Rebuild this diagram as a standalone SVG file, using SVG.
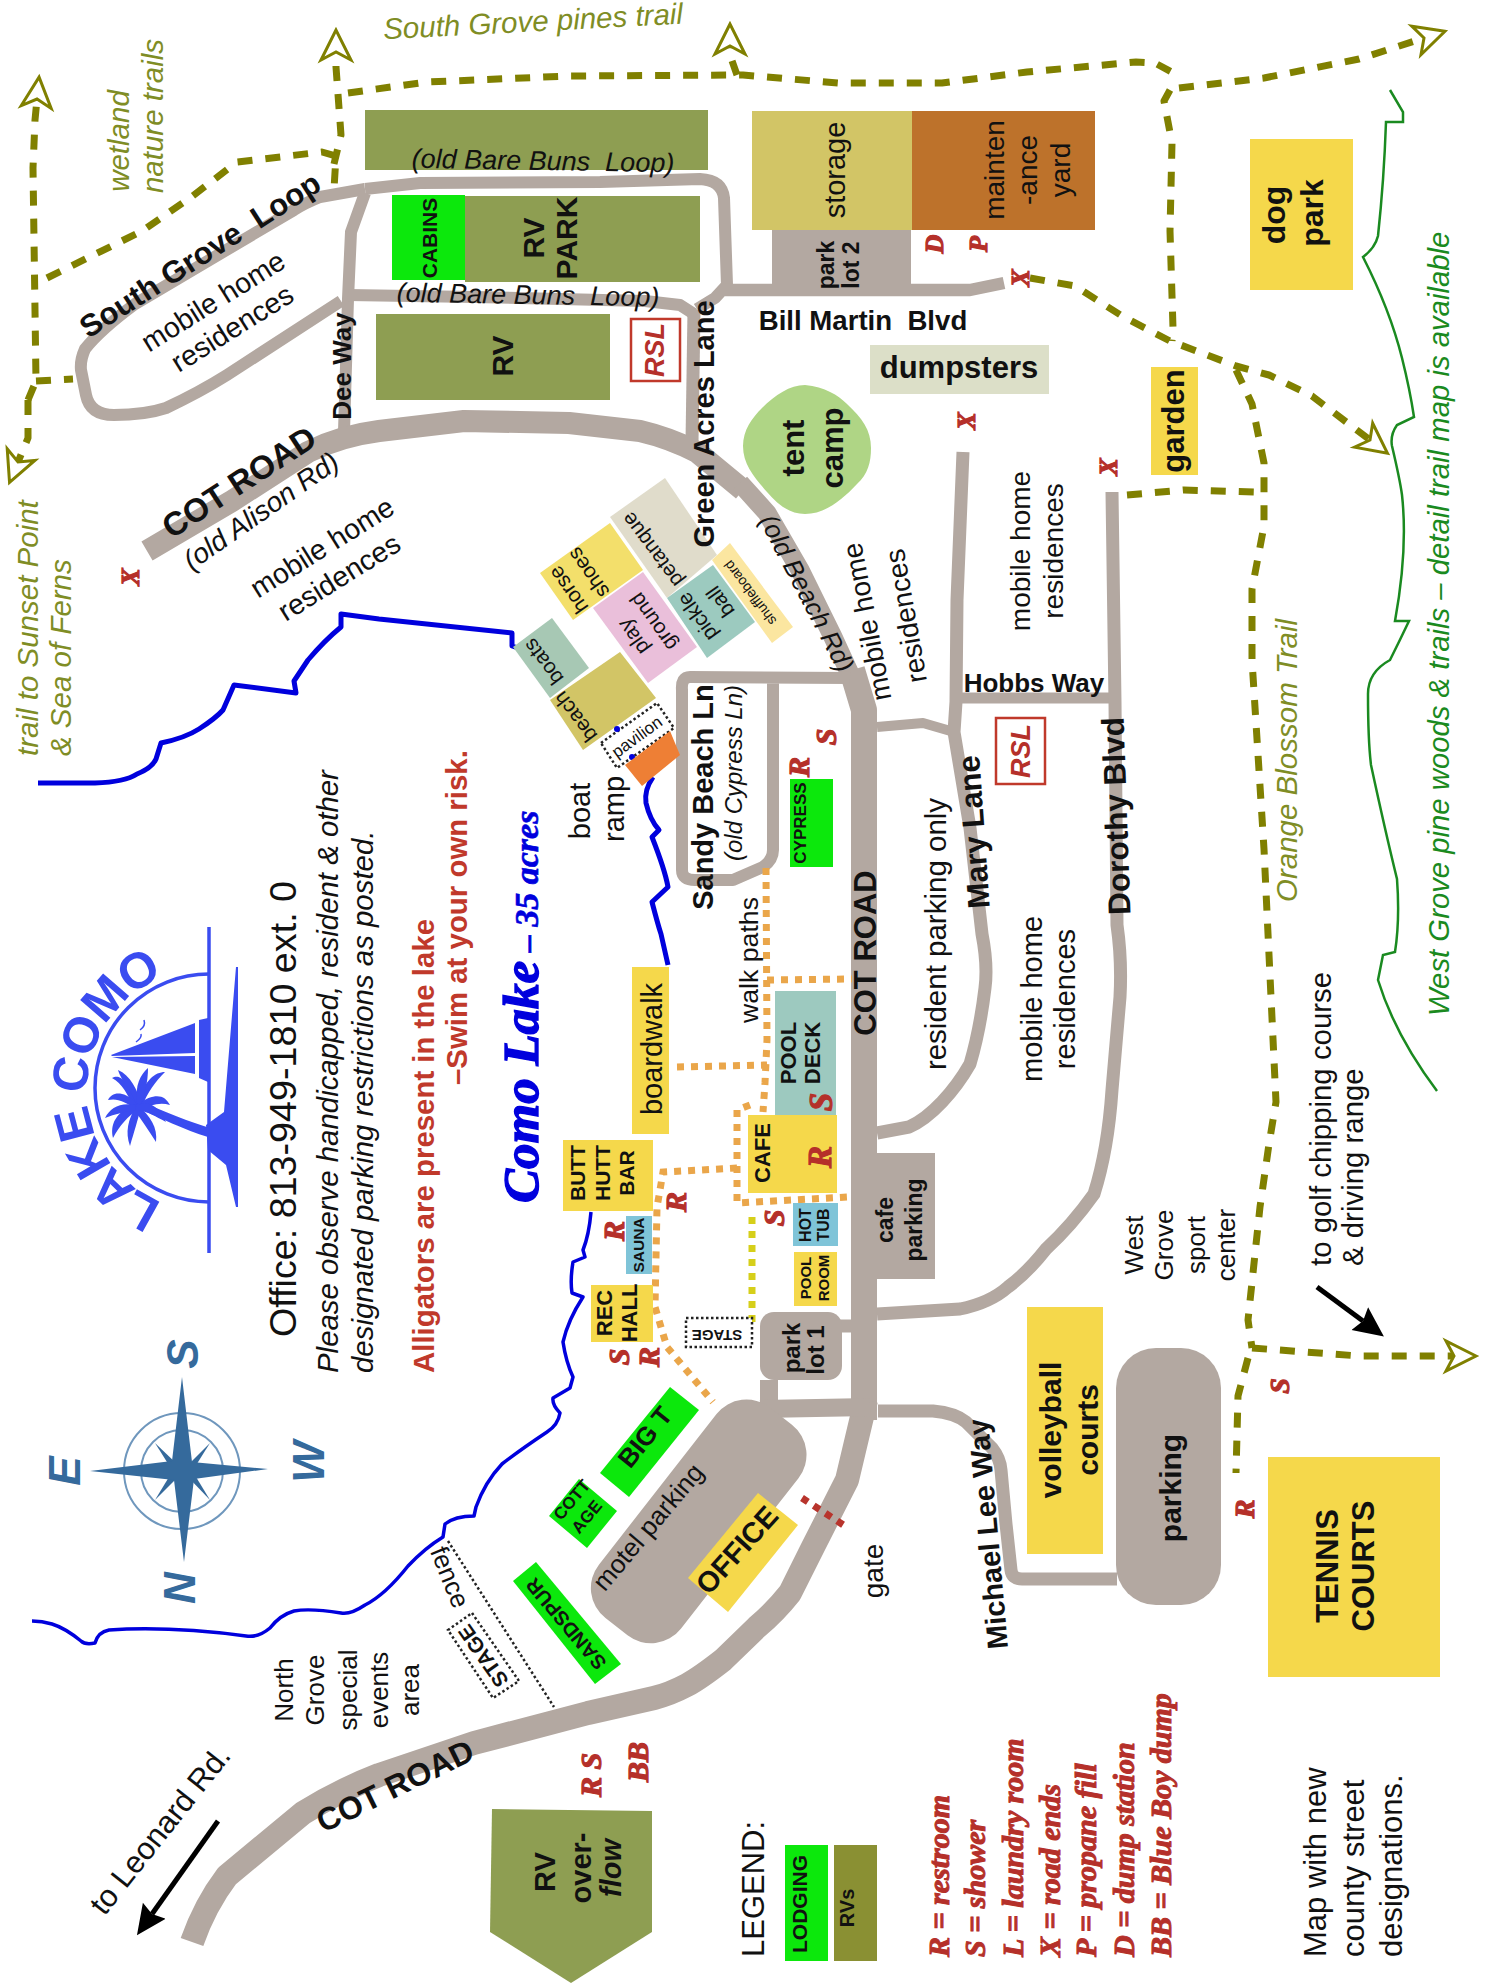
<svg xmlns="http://www.w3.org/2000/svg" width="1486" height="1986" viewBox="0 0 1486 1986">
<style>
text{font-family:"Liberation Sans",Arial,sans-serif;text-anchor:middle;dominant-baseline:central;fill:#111;font-size:28px;white-space:pre}
.b{font-weight:bold}
.i{font-style:italic}
.s{text-anchor:start;dominant-baseline:alphabetic}
.ol{fill:#7f8d25;font-style:italic;font-size:29.5px}
.sym{font-family:"Liberation Serif",serif;font-weight:bold;font-style:italic;fill:#b5302a;stroke:#b5302a;stroke-width:1.2px;font-size:30px}
.leg{font-family:"Liberation Serif",serif;font-weight:bold;font-style:italic;fill:#b5302a;stroke:#b5302a;stroke-width:1px;font-size:30px;text-anchor:start;dominant-baseline:alphabetic}
.rsl{font-weight:bold;font-style:italic;fill:#b5302a;font-size:27px}
.road{fill:none;stroke:#b3a8a1;stroke-linejoin:round}
.lot{fill:#b3a8a1}
.trail{fill:none;stroke:#808000;stroke-width:7;stroke-dasharray:15 13;stroke-linejoin:round}
.walk{fill:none;stroke:#eaa64a;stroke-width:7;stroke-dasharray:7 7}
.lake{fill:none;stroke:#0000dd;stroke-linejoin:round}
.y{fill:#f5d84b}
.g{fill:#0ce80c}
.rv{fill:#8e9e52}
.dot{fill:#fff;stroke:#222;stroke-width:2.5;stroke-dasharray:2.5 2.5}
.logo{fill:#3a4cf0}
.cmp{fill:#356a9c}
.cl{font-weight:bold;font-style:italic;fill:#356a9c;font-size:44px}
</style>
<defs>
<marker id="open" markerUnits="userSpaceOnUse" markerWidth="40" markerHeight="40" viewBox="-4 -20 40 40" refX="8" refY="0" orient="auto" overflow="visible"><path d="M30,0 L0,-15 L8,0 L0,15 Z" fill="#fff" stroke="#808000" stroke-width="3" stroke-linejoin="miter"/></marker>
<marker id="blk" markerUnits="userSpaceOnUse" markerWidth="34" markerHeight="34" viewBox="0 -17 34 34" refX="4" refY="0" orient="auto"><path d="M30,0 L0,-14 L4,0 L0,14 Z" fill="#000"/></marker>
</defs>
<rect width="1486" height="1986" fill="#fff"/>

<g id="lake">
<path class="lake" stroke-width="5" d="M38,783 L95,783 Q125,782 137,774 Q152,768 156,759 L161,743 Q185,738 199,729 Q216,718 223,710 L234,685 L296,693 L294,681 L308,660 Q325,640 341,627 L341,614 L379,619 L512,633 L512,646 L518,648"/>
<path class="lake" stroke-width="5" d="M653,777 Q644,790 646,803 Q650,820 659,830 L652,837 Q665,870 668,887 L652,902 Q658,925 661,934 L668,965"/>
<path class="lake" stroke-width="3.5" d="M591,1212 Q589,1235 583,1250 L585,1257 L573,1262 Q570,1280 572,1293 L583,1297 Q568,1320 563,1342 Q566,1362 573,1377 L570,1388 L553,1398 Q552,1405 560,1413 Q558,1425 547,1432 Q520,1450 502,1464 Q485,1482 476,1507 L474,1516 Q455,1516 445,1524 L443,1537 Q425,1548 408,1566 Q385,1595 365,1605 Q350,1615 341,1613 Q310,1608 294,1611 Q280,1615 270,1628 Q258,1638 246,1636 Q170,1626 109,1630 Q98,1632 95,1643 Q85,1645 81,1641 Q65,1628 52,1624 Q42,1621 32,1621"/>
</g>

<g id="connectors">
<g id="roads">
<path class="road" stroke-width="12" d="M365,189 L320,197 Q305,203 294,210 L135,304 Q100,330 85,349 Q80,360 81,370 L86,395 Q90,415 114,415 Q145,415 166,408 Q200,392 227,375 L341,301"/>
<path class="road" stroke-width="12" d="M365,189 L420,183 L600,182 L700,179 Q722,180 724,198 L727,285 L715,298 L697,309"/>
<path class="road" stroke-width="12" d="M365,193 L351,232 L348,299 L344,432"/>
<path class="road" stroke-width="12" d="M348,295 L474,297 L645,301 L680,305 L694,314"/>
<path class="road" stroke-width="13" d="M694,310 L692,442"/>
<path class="road" stroke-width="12.5" d="M725,290 L970,290 L1004,283"/>
<path class="road" stroke-width="22" d="M147,551 L232,501 L308,452 Q340,436 379,431 L464,421 L569,423 L640,431 Q670,438 697,452 L743,490"/>
<path class="road" stroke-width="19" d="M740,483 L767,513 L800,570 L833,637 L855,685"/>
<path class="road" stroke-width="26" d="M852,670 L864,710 L864,1420"/>
<path class="road" stroke-width="24" d="M866,1400 L847,1480 L813,1547 L790,1593 Q775,1612 757,1627 L723,1660 Q700,1678 687,1685 Q670,1694 654,1698 L588,1713 L474,1743 L379,1775 Q340,1790 303,1813 L227,1876 Q205,1905 192,1942"/>
<path class="road" stroke-width="12" d="M850,678 L690,677 Q681,677 682,690 L682,870 Q682,880 695,880 L733,880 L763,867 Q773,860 773,850 L773,680"/>
<path class="road" stroke-width="10" d="M877,727 L923,723 L954,732"/>
<path class="road" stroke-width="13" d="M963,452 L957,600 L956,702 L954,732 L970,828 L982,934 Q988,965 985,988 Q980,1030 970,1064 Q958,1085 942,1102 Q925,1120 909,1127 L877,1133"/>
<path class="road" stroke-width="11" d="M956,698 L1113,698"/>
<path class="road" stroke-width="13" d="M1112,492 L1115,702 L1117,925 Q1122,960 1120,997 L1112,1090 Q1108,1150 1094,1194 Q1072,1225 1046,1249 Q1028,1272 1008,1287 Q990,1303 960,1309 L877,1314"/>
<path class="road" stroke-width="13" d="M878,1411 L933,1411 Q955,1413 966,1422 L992,1448 Q1000,1458 1001,1470 L1006,1524 L1011,1570 Q1012,1579 1022,1579 L1117,1579"/>
<path class="road" stroke-width="13" d="M840,1326 L852,1326"/>
<path class="road" stroke-width="18" d="M769,1380 L769,1405"/>
<path class="road" stroke-width="18" d="M760,1409 L870,1407"/>
<rect class="lot" x="772" y="230" width="139" height="60"/>
<rect class="lot" x="877" y="1153" width="58" height="126"/>
<rect class="lot" x="760" y="1312" width="82" height="68" rx="14"/>
<rect class="lot" x="565" y="1469" width="267" height="104" rx="38" transform="rotate(-52 699 1521)"/>
<rect class="lot" x="1116" y="1348" width="105" height="257" rx="40"/>
</g>
<g id="trails">
<path class="trail" marker-end="url(#open)" d="M28,400 L36,381 L33,168 L35,120 L37,99"/>
<path class="trail" marker-end="url(#open)" d="M28,400 L28,438 L18,462"/>
<path class="trail" d="M36,381 L73,379"/>
<path class="trail" d="M47,278 L142,231 L190,198 L237,162 L322,152 L336,156 L334,189"/>
<path class="trail" marker-end="url(#open)" d="M334,164 L341,135 L336,67 L336,52"/>
<path class="trail" d="M348,93 L427,82 L569,76 L743,75 L838,83 L942,83 L1027,72 L1136,62 L1155,63 L1179,76"/>
<path class="trail" marker-end="url(#open)" d="M737,75 L730,55 L730,46"/>
<path class="trail" marker-end="url(#open)" d="M1179,88 L1264,78 L1359,59 L1424,38"/>
<path class="trail" d="M1170,90 L1164,101 L1172,143 L1170,231 L1173,328 L1172,341"/>
<path class="trail" marker-end="url(#open)" d="M1030,278 L1075,286 L1122,316 L1170,341 L1236,366 L1269,375 L1312,396 L1370,440"/>
<path class="trail" d="M1236,370 L1252,404 L1264,463 L1264,526 L1252,589 L1252,660 L1264,849 L1271,997 L1276,1102 L1269,1144 L1260,1207 L1248,1320 L1252,1348"/>
<path class="trail" marker-end="url(#open)" d="M1252,1348 L1359,1356 L1454,1356"/>
<path class="trail" d="M1248,1358 L1238,1396 L1236,1473"/>
<path class="trail" d="M1127,495 L1184,490 L1255,492"/>
</g>
<g id="walk-paths">
<path class="walk" d="M677,1067 L767,1065"/>
<path class="walk" d="M766,868 L767,1040 L765,1083 L763,1112"/>
<path class="walk" d="M767,980 L852,979"/>
<path class="walk" d="M750,1105 L737,1110 L737,1203 L847,1197"/>
<path class="walk" d="M737,1168 L663,1172 L660,1190 L657,1207 L655,1307 L667,1347 L713,1402"/>
<path class="walk" style="stroke:#d6cf1a" d="M752,1217 L752,1323"/>
<path id="gate" class="walk" style="stroke:#b8342c" d="M802,1498 L848,1528"/>
<path id="fence-line" fill="none" stroke="#222" stroke-width="2.5" stroke-dasharray="2.5 2.5" d="M448,1541 L554,1707"/>
</g>
<g id="brace"><path fill="none" stroke="#1a8a20" stroke-width="2.5" d="M1390,90 L1403,112 L1403,122 L1386,122 Q1384,180 1378,236 Q1375,248 1363,257 Q1390,310 1402,358 Q1410,390 1414,417 L1397,425 Q1390,435 1392,446 Q1400,480 1402,495 Q1408,550 1395,621 L1409,621 Q1400,640 1390,660 Q1368,672 1368,694 Q1368,740 1371,765 Q1385,830 1397,879 Q1400,920 1395,952 L1383,955 L1378,980 Q1395,1035 1437,1091"/></g>
<path id="leonard-arrow" fill="none" stroke="#000" stroke-width="5" marker-end="url(#blk)" d="M218,1821 L152,1914"/>
<path id="golf-arrow" fill="none" stroke="#000" stroke-width="5" marker-end="url(#blk)" d="M1317,1287 L1363,1321"/>
</g>

<g id="rv-top"><rect class="rv" x="365" y="110" width="343" height="60"/><text class="i" transform="translate(543 161) rotate(1)" style="font-size:27px">(old Bare Buns  Loop)</text></g>
<g id="cabins"><rect class="g" x="392" y="195" width="73" height="85"/><text class="b" transform="translate(429 238) rotate(-90)" style="font-size:21px">CABINS</text></g>
<g id="rv-park"><rect class="rv" x="465" y="196" width="235" height="86"/><text class="b" transform="translate(533 238) rotate(-90)" style="font-size:30px">RV</text><text class="b" transform="translate(566 238) rotate(-90)" style="font-size:30px">PARK</text></g>
<g id="rv-lot"><rect class="rv" x="376" y="314" width="234" height="86"/><text class="b" transform="translate(502 356) rotate(-90)" style="font-size:30px">RV</text></g>
<g id="rsl1"><rect x="631" y="319" width="49" height="62" fill="#fff" stroke="#c0392b" stroke-width="2.5"/><text class="rsl" transform="translate(655 350) rotate(-90)">RSL</text></g>
<g id="rsl2"><rect x="996" y="718" width="49" height="66" fill="#fff" stroke="#c0392b" stroke-width="2.5"/><text class="rsl" transform="translate(1021 751) rotate(-90)">RSL</text></g>
<g id="storage"><rect x="752" y="111" width="160" height="119" fill="#d2c566"/><text transform="translate(835 170) rotate(-90)" style="font-size:29px">storage</text></g>
<g id="maintenance"><rect x="912" y="111" width="183" height="119" fill="#bd722b"/><text transform="translate(994 170) rotate(-90)">mainten</text><text transform="translate(1027 170) rotate(-90)">-ance</text><text transform="translate(1060 170) rotate(-90)">yard</text></g>
<g id="parklot2"><text class="b" transform="translate(826 265) rotate(-90)" style="font-size:23px">park</text><text class="b" transform="translate(851 265) rotate(-90)" style="font-size:23px">lot 2</text></g>
<g id="dumpsters"><rect x="870" y="345" width="179" height="49" fill="#dcdfc8"/><text class="b" x="959" y="367" style="font-size:31px">dumpsters</text></g>
<g id="tent-camp"><path fill="#afd585" d="M805,385 C825,387 838,395 847,404 C862,418 871,430 871,448 C871,462 868,474 857,484 C842,500 825,514 805,514 C790,514 778,505 767,492 C755,478 743,465 743,446 C743,430 752,418 762,408 C775,395 790,385 805,385Z"/><text class="b" transform="translate(793 448) rotate(-90)" style="font-size:31px">tent</text><text class="b" transform="translate(832 448) rotate(-90)" style="font-size:31px">camp</text></g>
<g id="dog-park"><rect class="y" x="1250" y="139" width="103" height="151"/><text class="b" transform="translate(1274 215) rotate(-90)" style="font-size:32px">dog</text><text class="b" transform="translate(1312 213) rotate(-90)" style="font-size:32px">park</text></g>
<g id="garden"><rect class="y" x="1151" y="367" width="47" height="108"/><text class="b" transform="translate(1173 421) rotate(-90)" style="font-size:31px">garden</text></g>

<g id="petanque"><polygon points="610,517 665,478 717,555 667,598" fill="#e0dccb"/><text transform="translate(652 550) rotate(-127)" style="font-size:21px">petanque</text></g>
<g id="horse-shoes"><polygon points="540,573 610,523 643,570 573,620" fill="#f3df6b"/><text transform="translate(568 590) rotate(-125)" style="font-size:21px">horse</text><text transform="translate(588 573) rotate(-125)" style="font-size:21px">shoes</text></g>
<g id="playground"><polygon points="593,608 643,572 697,647 648,683" fill="#eabfda"/><text transform="translate(633 637) rotate(-125)" style="font-size:21px">play</text><text transform="translate(653 622) rotate(-125)" style="font-size:21px">ground</text></g>
<g id="pickleball"><polygon points="667,598 713,565 755,622 707,658" fill="#9ccabf"/><text transform="translate(697 617) rotate(-125)" style="font-size:21px">pickle</text><text transform="translate(720 602) rotate(-125)" style="font-size:21px">ball</text></g>
<g id="shuffleboard"><polygon points="712,560 730,543 793,627 772,643" fill="#fbe6a0"/><text transform="translate(750 593) rotate(-127)" style="font-size:14px">shuffleboard</text></g>
<g id="boats"><polygon points="513,647 552,618 589,668 550,698" fill="#a7c8b4"/><text transform="translate(543 662) rotate(-127)" style="font-size:21px">boats</text></g>
<g id="beach"><polygon points="550,700 620,652 656,698 583,750" fill="#d2c566"/><text transform="translate(575 717) rotate(-127)" style="font-size:21px">beach</text></g>
<g id="pavilion"><polygon class="dot" points="601,743 657,703 674,728 617,768"/><circle cx="617" cy="729" r="3" fill="#0000dd"/><circle cx="632" cy="757" r="3" fill="#0000dd"/><text transform="translate(637 737) rotate(-36)" style="font-size:17px">pavilion</text></g>
<g id="boat-ramp"><polygon points="625,765 670,731 680,755 642,786" fill="#ee7f35"/><text transform="translate(580 811) rotate(-90)" style="font-size:29px">boat</text><text transform="translate(614 809) rotate(-90)" style="font-size:29px">ramp</text></g>
<g id="cypress"><rect class="g" x="790" y="779" width="43" height="88"/><text class="b" transform="translate(800 823) rotate(-90)" style="font-size:17px">CYPRESS</text></g>
<g id="boardwalk"><rect class="y" x="632" y="967" width="37" height="167"/><text transform="translate(652 1049) rotate(-90)" style="font-size:29px">boardwalk</text></g>
<g id="butt-hutt-bar"><rect class="y" x="563" y="1140" width="90" height="71"/><text class="b" transform="translate(577 1173) rotate(-90)" style="font-size:21px">BUTT</text><text class="b" transform="translate(602 1173) rotate(-90)" style="font-size:21px">HUTT</text><text class="b" transform="translate(626 1173) rotate(-90)" style="font-size:21px">BAR</text></g>
<g id="sauna"><rect x="626" y="1216" width="26" height="58" fill="#7fc4d8"/><text class="b" transform="translate(638 1245) rotate(-90)" style="font-size:15.5px">SAUNA</text></g>
<g id="rec-hall"><rect class="y" x="591" y="1285" width="62" height="57"/><text class="b" transform="translate(604 1313) rotate(-90)" style="font-size:22px">REC</text><text class="b" transform="translate(629 1313) rotate(-90)" style="font-size:22px">HALL</text></g>
<g id="pool-deck"><rect x="775" y="991" width="61" height="124" fill="#9dc9bf"/><text class="b" transform="translate(788 1053) rotate(-90)" style="font-size:22px">POOL</text><text class="b" transform="translate(812 1053) rotate(-90)" style="font-size:22px">DECK</text></g>
<g id="cafe"><rect class="y" x="748" y="1115" width="89" height="78"/><text class="b" transform="translate(762 1153) rotate(-90)" style="font-size:22px">CAFE</text></g>
<g id="hot-tub"><rect x="793" y="1203" width="45" height="43" fill="#7fc4d8"/><text class="b" transform="translate(805 1225) rotate(-90)" style="font-size:16px">HOT</text><text class="b" transform="translate(823 1225) rotate(-90)" style="font-size:16px">TUB</text></g>
<g id="pool-room"><rect class="y" x="794" y="1252" width="43" height="54"/><text class="b" transform="translate(805 1278) rotate(-90)" style="font-size:15px">POOL</text><text class="b" transform="translate(823 1278) rotate(-90)" style="font-size:15px">ROOM</text></g>
<g id="stage-small"><rect class="dot" x="686" y="1318" width="66" height="29"/><text class="b" transform="translate(717 1335) rotate(180)" style="font-size:15px">STAGE</text></g>
<g id="parklot1"><text class="b" transform="translate(791 1348) rotate(-90)" style="font-size:24px">park</text><text class="b" transform="translate(815 1350) rotate(-90)" style="font-size:24px">lot 1</text></g>
<g id="cafe-parking"><text class="b" transform="translate(885 1220) rotate(-90)" style="font-size:23px">cafe</text><text class="b" transform="translate(914 1220) rotate(-90)" style="font-size:23px">parking</text></g>
<g id="big-t"><polygon class="g" points="670,1387 699,1410 629,1497 600,1473"/><text class="b" transform="translate(645 1437) rotate(-51)" style="font-size:26px">BIG T</text></g>
<g id="cottage"><polygon class="g" points="579,1479 617,1511 587,1548 549,1516"/><text class="b" transform="translate(572 1500) rotate(-50)" style="font-size:17px">COTT</text><text class="b" transform="translate(587 1517) rotate(-50)" style="font-size:17px">AGE</text></g>
<g id="sandspur"><polygon class="g" points="536,1562 621,1664 595,1684 513,1581"/><text class="b" transform="translate(566 1624) rotate(-130)" style="font-size:20px">SANDSPUR</text></g>
<g id="motel-parking"><text transform="translate(648 1527) rotate(-50)" style="font-size:26px">motel parking</text></g>
<g id="office"><polygon class="y" points="758,1493 798,1525 728,1612 688,1578"/><text class="b" transform="translate(737 1550) rotate(-48)" style="font-size:29px">OFFICE</text></g>
<g id="stage-large"><polygon class="dot" points="472,1613 519,1681 493,1698 448,1630"/><text class="b" transform="translate(483 1656) rotate(-125)" style="font-size:21px">STAGE</text></g>
<g id="volleyball"><rect class="y" x="1027" y="1307" width="76" height="247"/><text class="b" transform="translate(1050 1430) rotate(-90)" style="font-size:30px">volleyball</text><text class="b" transform="translate(1087 1430) rotate(-90)" style="font-size:30px">courts</text></g>
<g id="parking"><text class="b" transform="translate(1170 1488) rotate(-90)" style="font-size:30px">parking</text></g>
<g id="tennis"><rect class="y" x="1268" y="1457" width="172" height="220"/><text class="b" transform="translate(1327 1566) rotate(-90)" style="font-size:31px">TENNIS</text><text class="b" transform="translate(1363 1566) rotate(-90)" style="font-size:31px">COURTS</text></g>
<g id="rv-overflow"><polygon class="rv" points="492,1809 652,1811 652,1932 571,1983 490,1932"/><text class="b" transform="translate(545 1872) rotate(-90)" style="font-size:29px">RV</text><text class="b" transform="translate(581 1868) rotate(-90)" style="font-size:29px">over-</text><text class="b i" transform="translate(611 1868) rotate(-90)" style="font-size:29px">flow</text></g>

<g id="labels">
<text class="ol" transform="translate(533 21) rotate(-3)">South Grove pines trail</text>
<text class="ol" transform="translate(118 141) rotate(-90)">wetland</text>
<text class="ol" transform="translate(152 116) rotate(-90)">nature trails</text>
<text class="ol s" transform="translate(38 756) rotate(-90)">trail to Sunset Point</text>
<text class="ol s" transform="translate(71 756) rotate(-90)">&amp; Sea of Ferns</text>
<text class="i s" style="fill:#1a8a20;font-size:29.3px" transform="translate(1449 1016) rotate(-90)">West Grove pine woods &amp; trails – detail trail map is available</text>
<text class="ol s" transform="translate(1297 902) rotate(-90)">Orange Blossom Trail</text>
<text class="b" transform="translate(200 255) rotate(-32.6)" style="font-size:31px">South Grove  Loop</text>
<text transform="translate(213 301) rotate(-32)" style="font-size:28.5px">mobile home</text>
<text transform="translate(232 328) rotate(-32)" style="font-size:28.5px">residences</text>
<text class="b" transform="translate(342 366) rotate(-90)" style="font-size:26px">Dee Way</text>
<text class="i" transform="translate(528 295) rotate(1)" style="font-size:27px">(old Bare Buns  Loop)</text>
<text class="b" transform="translate(704 424) rotate(-90)" style="font-size:29px">Green Acres Lane</text>
<text class="b" transform="translate(239 482) rotate(-33)" style="font-size:33px">COT ROAD</text>
<text class="i" transform="translate(261 511) rotate(-35)">(old Alison Rd)</text>
<text transform="translate(322 547) rotate(-32)" style="font-size:28.5px">mobile home</text>
<text transform="translate(339 577) rotate(-32)" style="font-size:28.5px">residences</text>
<text class="b" x="863" y="320" style="font-size:27.6px">Bill Martin  Blvd</text>
<text transform="translate(867 622) rotate(-101)" style="font-size:28px">mobile home</text>
<text transform="translate(906 616) rotate(-100)" style="font-size:28px">residences</text>
<text transform="translate(1020 551) rotate(-90)" style="font-size:28px">mobile home</text>
<text transform="translate(1053 551) rotate(-90)" style="font-size:28px">residences</text>
<text class="i" transform="translate(807 593) rotate(62.5)" style="font-size:26px">(old Beach Rd)</text>
<text class="b" x="1034" y="683" style="font-size:26px">Hobbs Way</text>
<text class="b" transform="translate(703 797) rotate(-90)" style="font-size:29px">Sandy Beach Ln</text>
<text class="i" transform="translate(733 773) rotate(-90)" style="font-size:24px">(old Cypress Ln)</text>
<text class="b" transform="translate(865 953) rotate(-90)" style="font-size:31px">COT ROAD</text>
<text class="b" transform="translate(974 832) rotate(-94)" style="font-size:31px">Mary Lane</text>
<text class="b" transform="translate(1116 816) rotate(-92)" style="font-size:31.5px">Dorothy Blvd</text>
<text transform="translate(935 934) rotate(-90)" style="font-size:29.5px">resident parking only</text>
<text transform="translate(1032 999) rotate(-90)" style="font-size:29px">mobile home</text>
<text transform="translate(1065 999) rotate(-90)" style="font-size:29px">residences</text>
<text transform="translate(749 960) rotate(-90)" style="font-size:26.7px">walk paths</text>
<text class="b" transform="translate(988 1534) rotate(-95)" style="font-size:29px">Michael Lee Way</text>
<text transform="translate(873 1571) rotate(-90)">gate</text>
<text transform="translate(1134 1245) rotate(-90)" style="font-size:26px">West</text>
<text transform="translate(1164 1245) rotate(-90)" style="font-size:26px">Grove</text>
<text transform="translate(1196 1245) rotate(-90)" style="font-size:26px">sport</text>
<text transform="translate(1226 1245) rotate(-90)" style="font-size:26px">center</text>
<text class="s" transform="translate(1331 1266) rotate(-90)" style="font-size:29.4px">to golf chipping course</text>
<text class="s" transform="translate(1363 1266) rotate(-90)" style="font-size:29.4px">&amp; driving range</text>
<text transform="translate(450 1577) rotate(68)" style="font-size:26px">fence</text>
<text transform="translate(284 1690) rotate(-90)" style="font-size:26px">North</text>
<text transform="translate(315 1690) rotate(-90)" style="font-size:26px">Grove</text>
<text transform="translate(348 1690) rotate(-90)" style="font-size:26px">special</text>
<text transform="translate(379 1690) rotate(-90)" style="font-size:26px">events</text>
<text transform="translate(410 1690) rotate(-90)" style="font-size:26px">area</text>
<text class="b" transform="translate(395 1786) rotate(-26)" style="font-size:32px">COT ROAD</text>
<text transform="translate(160 1830) rotate(-51.5)" style="font-size:31px">to Leonard Rd.</text>
<text class="s" transform="translate(296 1337) rotate(-90)" style="font-size:37.7px">Office: 813-949-1810 ext. 0</text>
<text class="i s" transform="translate(338 1373) rotate(-90)" style="font-size:29.4px">Please observe handicapped, resident &amp; other</text>
<text class="i s" transform="translate(373 1373) rotate(-90)" style="font-size:29.4px">designated parking restrictions as posted.</text>
<text class="b s" style="fill:#c0392b;font-size:29.4px" transform="translate(434 1373) rotate(-90)">Alligators are present in the lake</text>
<text class="b s" style="fill:#c0392b;font-size:29.4px" transform="translate(467 1085) rotate(-90)">–Swim at your own risk.</text>
<text class="s" style="font-family:'Liberation Serif',serif;font-weight:bold;font-style:italic;fill:#0000dd;stroke:#0000dd;stroke-width:1.4px;font-size:51px" transform="translate(538 1203) rotate(-90)">Como Lake<tspan style="font-size:34px;stroke-width:.6px"> – 35 acres</tspan></text>
<text class="s" transform="translate(764 1957) rotate(-90)" style="font-size:31px">LEGEND:</text>
<text class="s" transform="translate(1326 1957) rotate(-90)" style="font-size:31px">Map with new</text>
<text class="s" transform="translate(1364 1957) rotate(-90)" style="font-size:31px">county street</text>
<text class="s" transform="translate(1402 1957) rotate(-90)" style="font-size:31px">designations.</text>
</g>

<g id="symbols">
<text class="sym" style="font-size:26px" transform="translate(130 577) rotate(-90)">X</text>
<text class="sym" style="font-size:26px" transform="translate(1020 278) rotate(-90)">X</text>
<text class="sym" style="font-size:26px" transform="translate(966 421) rotate(-90)">X</text>
<text class="sym" style="font-size:26px" transform="translate(1108 467) rotate(-90)">X</text>
<text class="sym" style="font-size:26px" transform="translate(934 244) rotate(-90)">D</text>
<text class="sym" style="font-size:26px" transform="translate(978 244) rotate(-90)">P</text>
<text class="sym" transform="translate(798 767) rotate(-90)">R</text>
<text class="sym" transform="translate(825 737) rotate(-90)">S</text>
<text class="sym" style="font-size:33px" transform="translate(821 1102) rotate(-90)">S</text>
<text class="sym" style="font-size:33px" transform="translate(820 1157) rotate(-90)">R</text>
<text class="sym" transform="translate(675 1202) rotate(-90)">R</text>
<text class="sym" transform="translate(613 1231) rotate(-90)">R</text>
<text class="sym" transform="translate(773 1218) rotate(-90)">S</text>
<text class="sym" transform="translate(618 1357) rotate(-90)">S</text>
<text class="sym" transform="translate(648 1357) rotate(-90)">R</text>
<text class="sym" transform="translate(590 1775) rotate(-90)">R S</text>
<text class="sym" transform="translate(637 1762) rotate(-90)">BB</text>
<text class="sym" style="font-size:28px" transform="translate(1244 1509) rotate(-90)">R</text>
<text class="sym" style="font-size:28px" transform="translate(1279 1386) rotate(-90)">S</text>
</g>

<g id="legend">
<rect class="g" x="785" y="1845" width="43" height="116"/><text class="b" transform="translate(799 1904) rotate(-90)" style="font-size:21px">LODGING</text>
<rect x="834" y="1845" width="43" height="116" fill="#8a9033"/><text class="b" transform="translate(847 1908) rotate(-90)" style="font-size:20px">RVs</text>
<text class="leg" transform="translate(949 1957) rotate(-90)">R = restroom</text>
<text class="leg" transform="translate(985 1957) rotate(-90)">S = shower</text>
<text class="leg" transform="translate(1023 1957) rotate(-90)">L = laundry room</text>
<text class="leg" transform="translate(1060 1957) rotate(-90)">X = road ends</text>
<text class="leg" transform="translate(1096 1957) rotate(-90)">P = propane fill</text>
<text class="leg" transform="translate(1134 1957) rotate(-90)">D = dump station</text>
<text class="leg" transform="translate(1171 1957) rotate(-90)">BB = Blue Boy dump</text>
</g>

<g id="logo">
<path d="M209,974 A114,114 0 0 0 209,1202" fill="none" stroke="#3a4cf0" stroke-width="3.5"/>
<path d="M209,927 L209,1253" fill="none" stroke="#3a4cf0" stroke-width="3.5"/>
<path id="lakeArc" d="M209,1212 A122,122 0 0 1 209,968" fill="none"/>
<text class="b" style="fill:#3a4cf0;font-size:50px;letter-spacing:-2px;dominant-baseline:alphabetic"><textPath href="#lakeArc" startOffset="50%">LAKE COMO</textPath></text>
<polygon class="logo" points="111,1055 195,1023 195,1053 112,1056"/>
<polygon class="logo" points="112,1057 195,1056 195,1074"/>
<polygon class="logo" points="199,1020 208,1018 208,1082 199,1078"/>
<polygon class="logo" points="236,967 238,967 238,1207 236,1207 226,1165 208,1150 206,1125 224,1112"/>
<path class="logo" d="M137,1100 C165,1112 190,1122 210,1128 L208,1137 C185,1130 160,1118 134,1106 Z"/>
<path class="logo" d="M138,1104 C125,1075 118,1075 112,1078 C122,1083 128,1095 133,1106 Z"/>
<path class="logo" d="M138,1102 C145,1080 155,1072 165,1072 C155,1082 148,1092 142,1106 Z"/>
<path class="logo" d="M136,1102 C122,1090 112,1092 108,1100 C118,1098 125,1102 134,1108 Z"/>
<path class="logo" d="M138,1104 C155,1092 165,1095 170,1105 C160,1102 150,1105 140,1110 Z"/>
<path class="logo" d="M136,1104 C115,1112 110,1125 113,1138 C120,1125 128,1116 138,1110 Z"/>
<path class="logo" d="M138,1106 C150,1115 158,1128 156,1142 C148,1130 142,1120 134,1110 Z"/>
<path class="logo" d="M136,1106 C128,1120 125,1132 130,1146 C134,1132 138,1120 140,1110 Z"/>
<path class="logo" d="M136,1103 C128,1085 122,1082 118,1070 C130,1075 138,1090 141,1104 Z"/>
<path class="logo" d="M137,1103 C135,1085 140,1075 148,1068 C148,1082 145,1092 141,1105 Z"/>
<path class="logo" d="M138,1105 C150,1100 160,1108 166,1122 C155,1116 148,1112 138,1110 Z"/>
<path class="logo" d="M135,1105 C120,1102 110,1108 105,1118 C115,1114 125,1112 136,1110 Z"/>
<path d="M140,1030 Q146,1026 144,1020 M136,1042 Q142,1038 141,1034" fill="none" stroke="#3a4cf0" stroke-width="1.5"/>
</g>

<g id="compass">
<circle cx="182" cy="1471" r="58" fill="none" stroke="#6f97bd" stroke-width="2"/>
<circle cx="182" cy="1471" r="41" fill="none" stroke="#6f97bd" stroke-width="2"/>
<polygon class="cmp" points="155,1443 178,1465 172,1470"/>
<polygon class="cmp" points="210,1443 188,1465 193,1470"/>
<polygon class="cmp" points="155,1500 178,1477 172,1472"/>
<polygon class="cmp" points="210,1500 188,1477 193,1472"/>
<polygon class="cmp" points="182,1377 192,1462 268,1469 194,1479 184,1562 174,1480 90,1471 172,1461"/>
<text class="cl" transform="translate(182 1354) rotate(-90)">S</text>
<text class="cl" transform="translate(64 1471) rotate(-90)">E</text>
<text class="cl" transform="translate(308 1462) rotate(-90)">W</text>
<text class="cl" transform="translate(179 1588) rotate(-90)">N</text>
</g>
</svg>
